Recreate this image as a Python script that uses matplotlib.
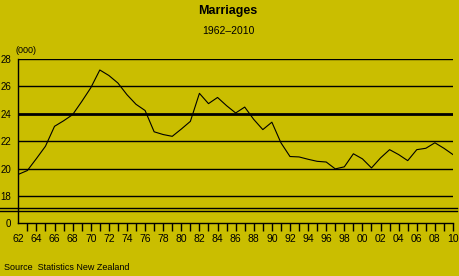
import matplotlib
matplotlib.use("Agg")
import matplotlib.pyplot as plt
import matplotlib.transforms as mtransforms
from matplotlib import font_manager

years = list(range(1962, 2011))
marriages = [19.6, 19.88, 20.75, 21.65, 23.1, 23.5, 23.95, 24.9, 25.9, 27.2,
             26.8, 26.25, 25.4, 24.7, 24.25, 22.7, 22.5, 22.37, 22.9, 23.46,
             25.5, 24.75, 25.2, 24.6, 24.07, 24.5, 23.6, 22.86, 23.4, 21.9,
             20.9, 20.87, 20.7, 20.55, 20.5, 20.0, 20.15, 21.1, 20.73, 20.07,
             20.8, 21.4, 21.04, 20.6, 21.4, 21.5, 21.9, 21.5, 21.04]
ytick_values = [18, 20, 22, 24, 26, 28]
ytick_labels = ["18", "20", "22", "24", "26", "28"]
xtick_years = list(range(1962, 2011, 2))
xtick_labels = ["62", "64", "66", "68", "70", "72", "74", "76", "78", "80",
                "82", "84", "86", "88", "90", "92", "94", "96", "98", "00",
                "02", "04", "06", "08", "10"]
title = "Marriages"
subtitle = "1962\u20132010"
unit_label = "(000)"
source = "Source  Statistics New Zealand"

installed = {f.name for f in font_manager.fontManager.ttflist}
fam = "Liberation Sans Narrow" if "Liberation Sans Narrow" in installed else "Liberation Sans"
plt.rcParams['font.family'] = [fam, 'DejaVu Sans']

bg = '#CABE00'
fig = plt.figure(figsize=(4.6, 2.76), dpi=100, facecolor=bg)
ax = fig.add_axes([18.3/460, (276-223)/276, (453-18.3)/460, (223-59)/276])
ax.set_facecolor(bg)

ymin = 16.06
ax.set_xlim(1962, 2010)
ax.set_ylim(ymin, 28)

# gridlines
for v in ytick_values:
    ax.axhline(v, color='black', lw=2.0 if v == 24 else 1.0, zorder=1)

ax.plot(years, marriages, color='black', lw=0.8, zorder=3)

# break lines across the figure width
trans = mtransforms.blended_transform_factory(fig.transFigure, ax.transData)
for yb in (17.17, 16.95):
    ax.plot([0, 457/460], [yb, yb], color='black', lw=1.0, transform=trans, clip_on=False)

for s in ['top', 'right']:
    ax.spines[s].set_visible(False)
ax.spines['left'].set_linewidth(1.0)
ax.spines['bottom'].set_linewidth(1.0)

ax.set_yticks([ymin] + ytick_values)
ax.set_yticklabels(["0"] + ytick_labels, fontsize=7)
ax.tick_params(axis='y', length=0, pad=5)

ax.set_xticks(years[1:], minor=False)
ax.set_xticklabels([])
ax.tick_params(axis='x', which='major', direction='out', length=6, width=1)
for yr, lab in zip(xtick_years, xtick_labels):
    ax.text(yr, -0.065, lab, transform=mtransforms.blended_transform_factory(ax.transData, ax.transAxes),
            ha='center', va='top', fontsize=7.5)

fig.text(228/460, 1 - 11/276, title, ha='center', va='center', fontsize=9, fontweight='bold')
fig.text(228/460, 1 - 31/276, subtitle, ha='center', va='center', fontsize=7.5)
fig.text(16/460, 1 - 51/276, unit_label, ha='left', va='center', fontsize=6.5)
fig.text(4/460, 1 - 268/276, source, ha='left', va='center', fontsize=6.5)

fig.savefig('out.png', dpi=100, facecolor=bg)
